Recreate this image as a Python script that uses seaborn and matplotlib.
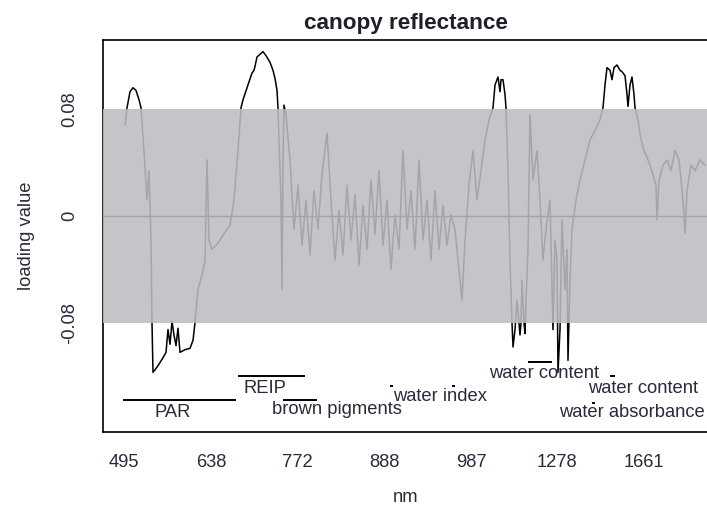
import numpy as np
import pandas as pd
import matplotlib
matplotlib.use("Agg")
import matplotlib.pyplot as plt
import seaborn as sns

# band index along the spectrum and the loading of each band
band = [21, 23, 26, 29, 32, 35, 37, 40, 43, 45, 47, 48, 49, 54, 59, 62, 64, 66, 68, 70,
        72, 74, 76, 81, 86, 89, 91, 94, 98, 101, 103, 105, 108, 112, 116, 121, 126, 130,
        134, 137, 139, 144, 148, 150, 151, 153, 156, 159, 162, 166, 169, 171, 173, 174,
        175, 177, 178, 179, 180, 182, 186, 190, 194, 198, 202, 206, 210, 214, 218, 223,
        227, 231, 235, 239, 243, 247, 251, 255, 259, 263, 267, 271, 275, 279, 283, 287,
        291, 295, 299, 303, 307, 311, 315, 319, 323, 327, 331, 335, 339, 343, 347, 351,
        355, 358, 361, 365, 369, 373, 377, 381, 385, 389, 391, 394, 396, 397, 399, 401,
        402, 404, 406, 408, 409, 411, 413, 415, 416, 417, 418, 420, 421, 422, 424, 426,
        429, 433, 436, 439, 442, 446, 449, 451, 453, 454, 456, 458, 461, 463, 464, 466,
        468, 472, 476, 481, 486, 491, 496, 499, 501, 503, 506, 508, 510, 513, 516, 518,
        521, 523, 524, 526, 528, 530, 531, 534, 537, 540, 543, 546, 549, 552, 553, 555,
        559, 563, 567, 571, 575, 579, 581, 583, 587, 591, 596, 601]
loading = [0.068, 0.081, 0.093, 0.096, 0.094, 0.087, 0.081, 0.049, 0.012, 0.034, -0.018,
           -0.080, -0.117, -0.112, -0.106, -0.102, -0.085, -0.096, -0.079, -0.089, -0.097,
           -0.084, -0.102, -0.100, -0.099, -0.093, -0.080, -0.055, -0.044, -0.034, 0.042,
           -0.018, -0.025, -0.022, -0.018, -0.012, -0.007, 0.012, 0.049, 0.081, 0.087,
           0.098, 0.107, 0.109, 0.112, 0.119, 0.121, 0.123, 0.120, 0.115, 0.109, 0.103,
           0.094, 0.081, 0.057, 0.012, -0.055, 0.042, 0.083, 0.076, 0.042, -0.010, 0.023,
           -0.022, 0.012, -0.029, 0.019, -0.010, 0.031, 0.062, 0.012, -0.033, 0.004,
           -0.029, 0.023, -0.018, 0.016, -0.037, 0.008, -0.025, 0.027, -0.014, 0.034,
           -0.022, 0.012, -0.040, 0.001, -0.025, 0.049, -0.010, 0.019, -0.025, 0.042,
           -0.018, 0.012, -0.033, 0.019, -0.025, 0.008, -0.022, 0.001, -0.010, -0.040,
           -0.063, -0.018, 0.023, 0.049, 0.012, 0.034, 0.057, 0.072, 0.081, 0.098, 0.104,
           0.093, 0.102, 0.102, 0.091, 0.081, 0.034, -0.033, -0.080, -0.098, -0.085,
           -0.063, -0.080, -0.089, -0.080, -0.048, -0.080, -0.088, -0.063, -0.025, 0.076,
           0.027, 0.049, 0.012, -0.033, -0.010, 0.012, -0.085, -0.018, -0.033, -0.117,
           -0.085, -0.003, -0.055, -0.025, -0.108, -0.048, -0.010, 0.012, 0.027, 0.042,
           0.057, 0.064, 0.072, 0.081, 0.098, 0.111, 0.109, 0.102, 0.111, 0.113, 0.109,
           0.108, 0.105, 0.091, 0.082, 0.098, 0.104, 0.091, 0.081, 0.072, 0.057, 0.049,
           0.044, 0.038, 0.031, 0.023, -0.003, 0.027, 0.038, 0.042, 0.034, 0.049, 0.042,
           0.012, -0.013, 0.019, 0.038, 0.034, 0.042, 0.038]

# wavelength labels shown on the band axis
tick_band = [20, 107, 193, 280, 367, 453, 540]
tick_nm = ["495", "638", "772", "888", "987", "1278", "1661"]

# noise threshold band around zero
threshold = 0.08

# spectral features: marker band range and level, then label position
feat_start = [19, 134, 179, 286, 348, 424, 506, 488]
feat_end = [132, 201, 213, 289, 351, 448, 511, 491]
feat_level = [-0.1376, -0.120, -0.138, -0.127, -0.127, -0.109, -0.120, -0.140]
text_label = ["PAR", "REIP", "brown pigments", "water index",
              "water content", "water content", "water absorbance"]
text_band = [68.5, 160.5, 233, 336.5, 440, 539.5, 528]
text_level = [-0.147, -0.129, -0.145, -0.135, -0.118, -0.129, -0.147]

sns.set_theme(style="white")
plt.rcParams["font.family"] = ["Liberation Sans", "DejaVu Sans"]

fig = plt.figure(figsize=(7.07, 5.12), dpi=100)
ax = fig.add_axes([103 / 707, 1 - 432 / 512, 606 / 707, 392 / 512])

df = pd.DataFrame({"band": band, "loading": loading})
ax.axhline(0, color="black", lw=1.0, zorder=1)
sns.lineplot(data=df, x="band", y="loading", color="black", lw=1.1,
             estimator=None, sort=False, ax=ax, zorder=2)
ax.axhspan(-threshold, threshold, facecolor="#bcbdc1", alpha=0.88,
           edgecolor="none", zorder=3)

for s, e, lv in zip(feat_start, feat_end, feat_level):
    ax.plot([s, e], [lv, lv], color="black", lw=1.4, zorder=4,
            solid_capstyle="butt")
for lab, b, lv in zip(text_label, text_band, text_level):
    ax.text(b, lv, lab, ha="center", va="center", fontsize=13.2,
            color="#2a2a3a", zorder=5)

ax.set_xlim(-1, 605)
ax.set_ylim(-0.1616, 0.1317)
ax.set_xticks(tick_band)
ax.set_xticklabels(tick_nm)
ax.set_yticks([-0.08, 0, 0.08])
ax.set_yticklabels(["-0.08", "0", "0.08"], rotation=90, va="center")

ax.tick_params(axis="both", direction="out", length=7, width=1.1,
               color="black", labelsize=13.2, labelcolor="#2a2a3a")
ax.tick_params(axis="x", pad=9)
ax.tick_params(axis="y", pad=11)
for sp in ax.spines.values():
    sp.set_color("black")
    sp.set_linewidth(1.2)
    sp.set_visible(True)

ax.set_xlabel("nm", fontsize=13.2, color="#2a2a3a")
ax.set_ylabel("loading value", fontsize=13.2, color="#2a2a3a")
ax.xaxis.set_label_coords(0.5, -0.145)
ax.yaxis.set_label_coords(-0.113, 0.5)
ax.set_title("canopy reflectance", fontsize=16.2, fontweight="bold",
             color="#1f1f2a", pad=8)

fig.savefig("out.png", dpi=100)
